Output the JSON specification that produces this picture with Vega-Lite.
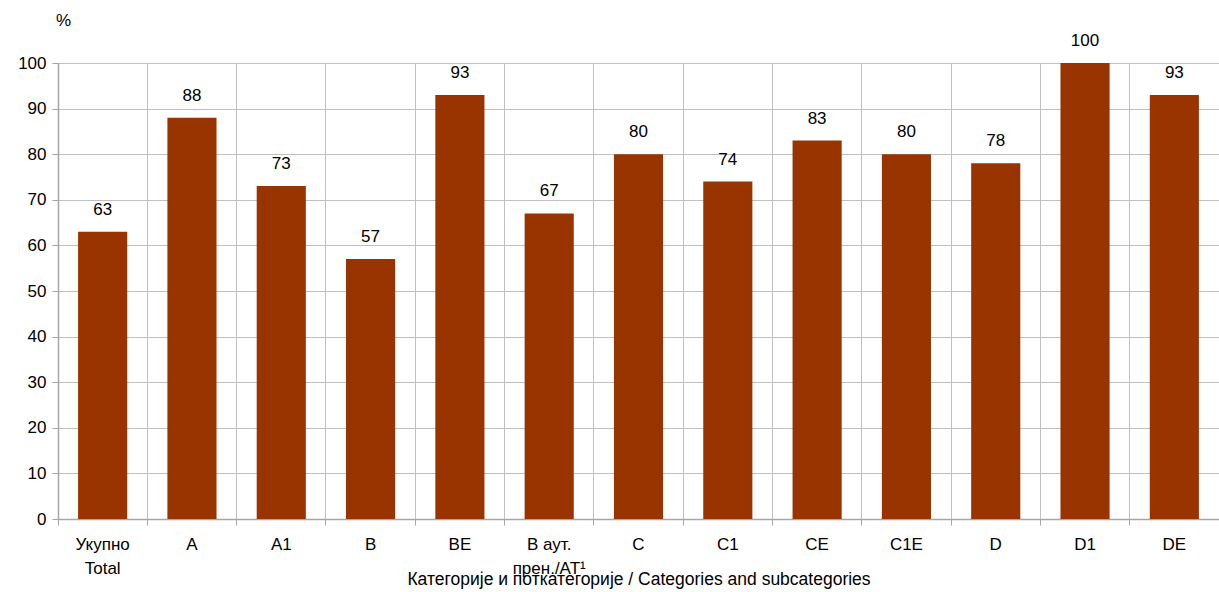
{
  "$schema": "https://vega.github.io/schema/vega-lite/v6.json",
  "width": 1161,
  "height": 456,
  "autosize": "none",
  "padding": {"left": 58, "top": 63, "right": 0, "bottom": 73},
  "background": "white",
  "config": {
    "font": "Liberation Sans",
    "view": {"stroke": null}
  },
  "data": {
    "values": [
      {"cat": "Укупно|Total", "value": 63},
      {"cat": "A", "value": 88},
      {"cat": "A1", "value": 73},
      {"cat": "B", "value": 57},
      {"cat": "BE", "value": 93},
      {"cat": "В аут.|прен./AT¹", "value": 67},
      {"cat": "C", "value": 80},
      {"cat": "C1", "value": 74},
      {"cat": "CE", "value": 83},
      {"cat": "C1E", "value": 80},
      {"cat": "D", "value": 78},
      {"cat": "D1", "value": 100},
      {"cat": "DE", "value": 93}
    ]
  },
  "encoding": {
    "x": {
      "field": "cat",
      "type": "nominal",
      "sort": null,
      "scale": {"paddingInner": 0, "paddingOuter": 0},
      "axis": {
        "bandPosition": 0,
        "labelAngle": 0,
        "labelAlign": "center",
        "labelBaseline": "top",
        "labelExpr": "split(datum.label, '|')",
        "labelFontSize": 17,
        "labelColor": "#000000",
        "labelLineHeight": 24,
        "labelPadding": 11,
        "tickSize": 6,
        "tickColor": "#a6a6a6",
        "domainColor": "#a6a6a6",
        "domainWidth": 1.5,
        "grid": true,
        "gridColor": "#c0c0c0",
        "gridWidth": 1,
        "title": "Категорије и поткатегорије / Categories and subcategories",
        "titleFontSize": 17.5,
        "titleFontWeight": "normal",
        "titleColor": "#000000",
        "titleBaseline": "middle",
        "titleY": 60
      }
    },
    "y": {
      "field": "value",
      "type": "quantitative",
      "scale": {"domain": [0, 100], "nice": false},
      "axis": {
        "values": [0, 10, 20, 30, 40, 50, 60, 70, 80, 90, 100],
        "labelFontSize": 17,
        "labelColor": "#000000",
        "labelPadding": 6,
        "tickSize": 6,
        "tickColor": "#a6a6a6",
        "domainColor": "#a6a6a6",
        "domainWidth": 1.5,
        "gridColor": "#c0c0c0",
        "gridWidth": 1,
        "title": "%",
        "titleAngle": 0,
        "titleFontSize": 17,
        "titleFontWeight": "normal",
        "titleColor": "#000000",
        "titleAlign": "center",
        "titleBaseline": "middle",
        "titleX": 5,
        "titleY": -43
      }
    }
  },
  "layer": [
    {
      "mark": {"type": "bar", "color": "#993300", "width": {"band": 0.55}}
    },
    {
      "mark": {"type": "text", "baseline": "bottom", "dy": -13, "fontSize": 17, "color": "#000000"},
      "encoding": {"text": {"field": "value", "type": "quantitative"}}
    }
  ]
}
